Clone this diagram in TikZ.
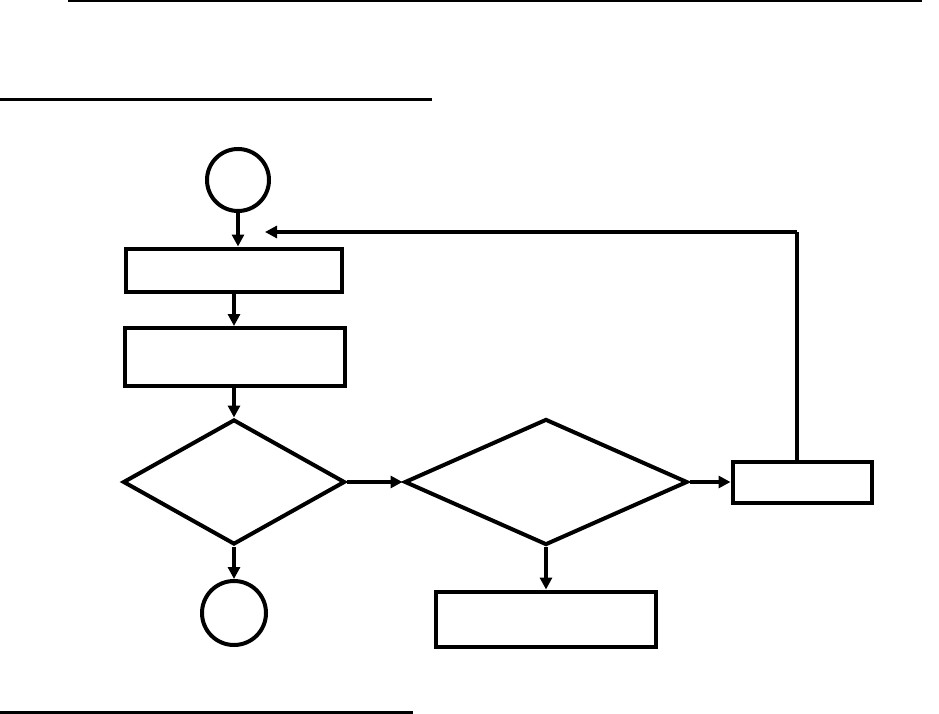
\documentclass[tikz,border=0pt]{standalone}
\usetikzlibrary{shapes.geometric,arrows.meta}
\begin{document}
\begin{tikzpicture}[x=1pt,y=-1pt,
  ln/.style={line width=4pt},
  box/.style={draw,ln,rectangle,inner sep=0pt},
  dia/.style={draw,ln,diamond,inner sep=0pt},
  term/.style={draw,ln,circle,inner sep=0pt},
  arr/.style={ln,-{Triangle[length=12pt,width=12pt]}}]
\useasboundingbox (0,0) rectangle (939,714);
\draw[line width=1.2pt] (68,1) -- (922,1);
\draw[line width=3pt] (0,100) -- (432,100);
\draw[line width=3pt] (0,712) -- (413,712);

\node[term,minimum size=62pt] (s) at (238,180) {};
\node[box,minimum width=216pt,minimum height=43pt] (b1) at (234,270) {};
\node[box,minimum width=220pt,minimum height=58pt] (b2) at (235,357) {};
\node[dia,minimum width=222pt,minimum height=125pt] (d1) at (234,482) {};
\node[term,minimum size=64pt] (e) at (234,613) {};
\node[dia,minimum width=283pt,minimum height=126pt] (d2) at (546,482) {};
\node[box,minimum width=139pt,minimum height=41pt] (b3) at (802,482) {};
\node[box,minimum width=220pt,minimum height=55pt] (b4) at (546,619) {};
\coordinate (fb) at (265,232);
\coordinate (up) at (797,232);

\draw[arr] (s.south) -- (s.south |- b1.north);
\draw[arr] (b1.south) -- (b1.south |- b2.north);
\draw[arr] (b2.south -| d1.north) -- (d1.north);
\draw[arr] (d1.south) -- (e.north);
\draw[arr] (d1.east) -- (d2.west);
\draw[arr] (d2.east) -- (b3.west);
\draw[arr] (d2.south) -- (b4.north);
\draw[ln] (up |- b3.north) -- (up);
\draw[arr] (up) -- (fb);
\end{tikzpicture}
\end{document}
